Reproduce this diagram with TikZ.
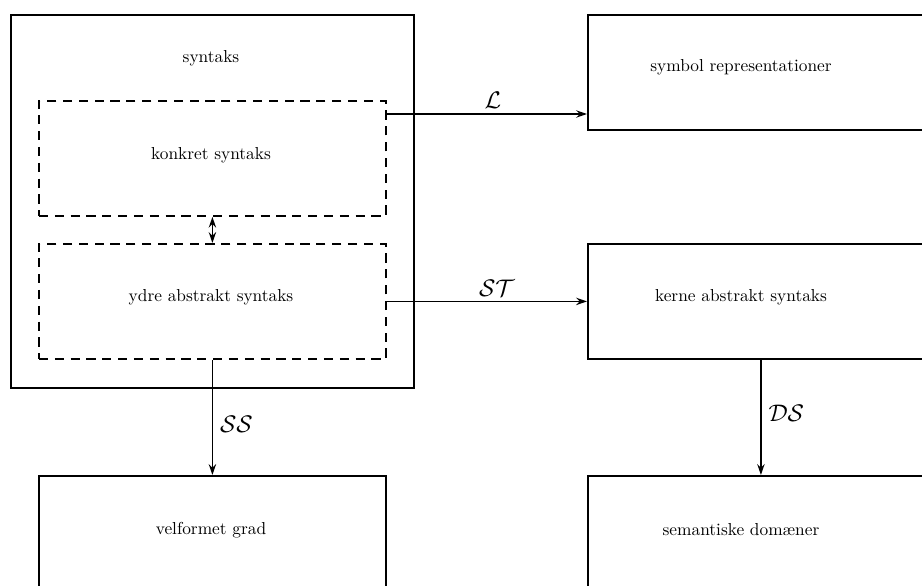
\documentclass[tikz,border=0pt]{standalone}
\usetikzlibrary{arrows.meta,calc}
\begin{document}
\begin{tikzpicture}[x=0.6pt,y=-0.6pt,
  box/.style={draw,line width=1.1pt,inner sep=0pt,anchor=north west},
  dbox/.style={box,dash pattern=on 5.5pt off 4pt},
  lbl/.style={inner sep=0pt,font=\fontsize{10.4pt}{12pt}\selectfont},
  mlbl/.style={inner sep=0pt,font=\fontsize{14pt}{16pt}\selectfont},
  tip/.tip={Stealth[length=6.5pt,width=4.4pt,inset=2.2pt]},
  arr/.style={line width=1.1pt,-tip},
  darr/.style={line width=1.1pt,tip-tip}]
\useasboundingbox (0,0) rectangle (922,586);
\clip (0,0) rectangle (922,586);
% boxes
\node[box,minimum width=241.8pt,minimum height=223.8pt] (outer) at (10,14) {};
\node[dbox,minimum width=208.2pt,minimum height=69pt] (dash1) at (38,100) {};
\node[dbox,minimum width=208.2pt,minimum height=69pt] (dash2) at (38,243) {};
\node[box,minimum width=207.6pt,minimum height=69pt] (symb) at (587,14) {};
\node[box,minimum width=207.6pt,minimum height=69pt] (kerne) at (587,243) {};
\node[box,minimum width=208.2pt,minimum height=69pt] (velf) at (38,475) {};
\node[box,minimum width=207.6pt,minimum height=69pt] (sem) at (587,475) {};
% labels
\node[lbl] (tsyn) at (211,58) {syntaks};
\node[lbl] (tkon) at (211,155) {konkret syntaks};
\node[lbl] (tydre) at (211,297) {ydre abstrakt syntaks};
\node[lbl] (tsymb) at (741,67) {symbol representationer};
\node[lbl] (tkerne) at (741,297) {kerne abstrakt syntaks};
\node[lbl] (tvelf) at (211,530) {velformet grad};
\node[lbl] (tsem) at (741,530) {semantiske domæner};
% connectors
\coordinate (Ls) at ($(dash1.north east)+(0,14)$);
\draw[arr] (Ls) -- (Ls -| symb.west) node[pos=0.53,above=2.5pt,mlbl] (lL) {$\mathcal{L}$};
\draw[arr] (dash2.east) -- (kerne.west) node[pos=0.55,above=2.5pt,mlbl] (lST) {$\mathcal{ST}$};
\draw[darr] (dash1.south) -- (dash2.north);
\draw[arr] (dash2.south) -- (velf.north) node[pos=0.56,right=4pt,mlbl] (lSS) {$\mathcal{SS}$};
\draw[arr] (kerne.south) -- (sem.north) node[pos=0.46,right=4pt,mlbl] (lDS) {$\mathcal{DS}$};
\end{tikzpicture}
\end{document}
